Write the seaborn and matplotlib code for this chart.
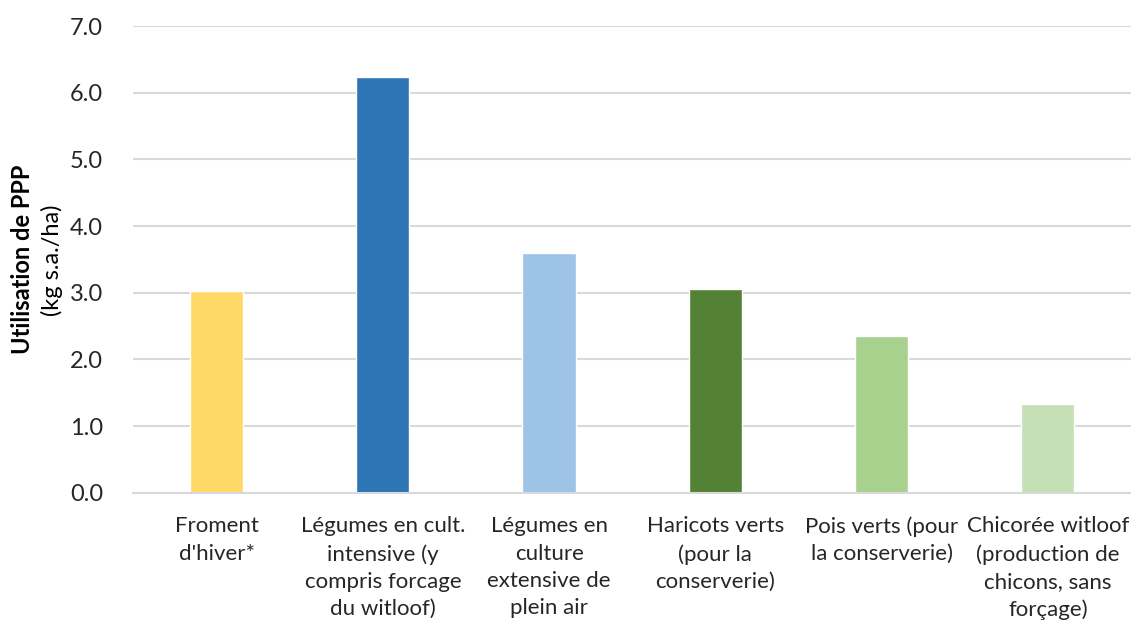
import matplotlib
matplotlib.use("Agg")
import matplotlib.pyplot as plt
import seaborn as sns
import pandas as pd

# données
categories = [
    "Froment\nd'hiver*",
    "Légumes en cult.\nintensive (y\ncompris forcage\ndu witloof)",
    "Légumes en\nculture\nextensive de\nplein air",
    "Haricots verts\n(pour la\nconserverie)",
    "Pois verts (pour\nla conserverie)",
    "Chicorée witloof\n(production de\nchicons, sans\nforçage)",
]
valeurs = [3.02, 6.24, 3.59, 3.05, 2.35, 1.33]
couleurs = ["#FFD966", "#2E75B6", "#9DC3E6", "#548235", "#A9D18E", "#C5E0B4"]
yticks = [0.0, 1.0, 2.0, 3.0, 4.0, 5.0, 6.0, 7.0]

df = pd.DataFrame({"cat": categories, "val": valeurs})

sns.set_style("white")
plt.rcParams["font.family"] = ["Lato", "DejaVu Sans"]

fig = plt.figure(figsize=(11.31, 6.23), dpi=100)
ax = fig.add_axes([0.118, 0.209, 0.882, 0.749])

sns.barplot(data=df, x="cat", y="val", hue="cat", palette=couleurs,
            width=0.32, legend=False, ax=ax, saturation=1)

ax.set_ylim(0, 7)
ax.set_yticks(yticks)
ax.set_yticklabels([f"{v:.1f}" for v in yticks], fontsize=17, color="#262626")
ax.set_xticks(range(len(categories)))
ax.set_xticklabels(categories, fontsize=16, color="#262626", linespacing=1.46,
                   va="top")
ax.tick_params(axis="both", length=0)
ax.tick_params(axis="x", pad=17)
ax.tick_params(axis="y", pad=22)
ax.set_xlabel("")
ax.set_ylabel("")

ax.grid(axis="y", color="#D9D9D9", linewidth=1.5)
ax.set_axisbelow(True)
for s in ["top", "right", "left"]:
    ax.spines[s].set_visible(False)
ax.spines["bottom"].set_color("#D9D9D9")
ax.spines["bottom"].set_linewidth(1.5)

fig.text(0.02, 0.583, "Utilisation de PPP", rotation=90, fontsize=17,
         fontweight="bold", ha="center", va="center", color="#000000")
fig.text(0.046, 0.583, "(kg s.a./ha)", rotation=90, fontsize=17,
         ha="center", va="center", color="#000000")

fig.savefig("out.png", dpi=100)
